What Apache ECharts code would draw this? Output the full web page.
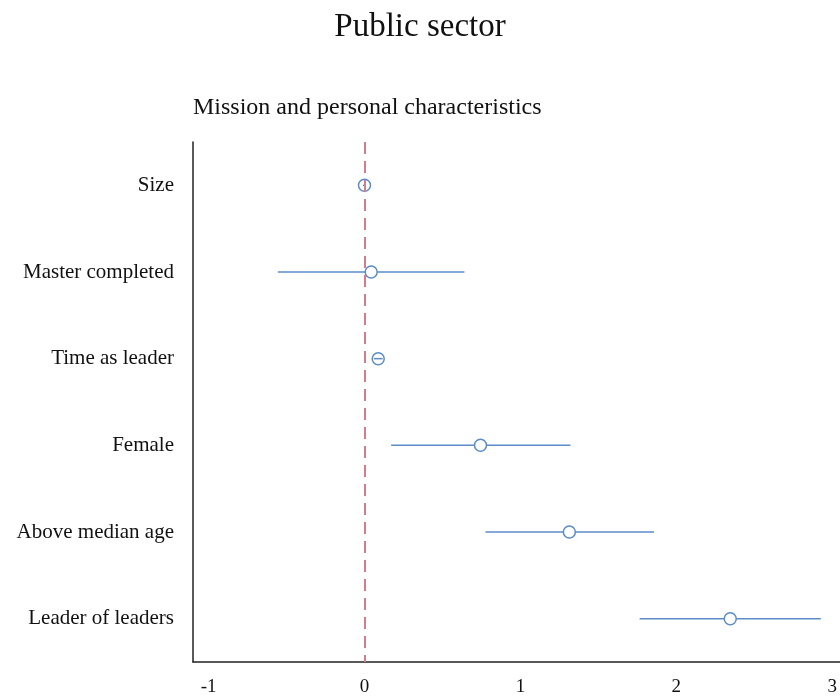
<!DOCTYPE html>
<html>
<head>
<meta charset="utf-8">
<script src="https://cdn.jsdelivr.net/npm/echarts@6/dist/echarts.min.js"></script>
<style>
html,body{margin:0;padding:0;background:#fff;}
#chart{width:840px;height:700px;}
</style>
</head>
<body>
<div id="chart"></div>
<script>
var categories = ["Size", "Master completed", "Time as leader", "Female", "Above median age", "Leader of leaders"];
var estimates = [0.00, 0.043, 0.088, 0.744, 1.314, 2.346];
var ciLow = [-0.01, -0.556, 0.06, 0.171, 0.776, 1.765];
var ciHigh = [0.01, 0.641, 0.116, 1.321, 1.857, 2.927];
var xTicks = [-1, 0, 1, 2, 3];
var titleText = "Public sector";
var subtitleText = "Mission and personal characteristics";

var serif = "'Liberation Serif', 'DejaVu Serif', serif";
var blue = "#5b8cc8";
var red = "#d67b8b";
var markerSize = 12;

var chart = echarts.init(document.getElementById('chart'), null, {renderer: 'canvas'});

var ciData = categories.map(function (c, i) { return [ciLow[i], ciHigh[i], c]; });
var ptData = categories.map(function (c, i) { return [estimates[i], c]; });

function ciRenderer(onlyShort) {
  return function (params, api) {
    var cat = api.value(2);
    var p1 = api.coord([api.value(0), cat]);
    var p2 = api.coord([api.value(1), cat]);
    var len = Math.abs(p2[0] - p1[0]);
    if (onlyShort && len > markerSize + 2) return null;
    return {
      type: 'line',
      shape: {x1: p1[0], y1: p1[1], x2: p2[0], y2: p2[1]},
      style: {stroke: blue, lineWidth: 1.5}
    };
  };
}

chart.setOption({
  backgroundColor: '#ffffff',
  animation: false,
  title: [
    {text: titleText, left: 'center', top: 11, padding: 0,
     textStyle: {fontFamily: serif, fontSize: 33, fontWeight: 'normal', color: '#111'}},
    {text: subtitleText, left: 193, top: 96, padding: 0,
     textStyle: {fontFamily: serif, fontSize: 24, fontWeight: 'normal', color: '#111'}}
  ],
  grid: {left: 193, right: 0, top: 142, bottom: 38, containLabel: false},
  xAxis: {
    type: 'value', min: -1.1, max: 3.05,
    splitLine: {show: false},
    axisTick: {show: false},
    axisLine: {show: true, onZero: false, lineStyle: {color: '#222', width: 1.5}},
    axisLabel: {customValues: xTicks, margin: 16, fontFamily: serif, fontSize: 19, color: '#111'}
  },
  yAxis: {
    type: 'category', data: categories, inverse: true,
    axisTick: {show: false},
    splitLine: {show: false},
    axisLine: {show: true, onZero: false, lineStyle: {color: '#222', width: 1.5}},
    axisLabel: {margin: 19, fontFamily: serif, fontSize: 21, color: '#111'}
  },
  series: [
    {
      type: 'custom',
      data: ciData,
      encode: {x: [0, 1], y: 2},
      z: 2,
      renderItem: ciRenderer(false)
    },
    {
      type: 'scatter',
      data: ptData,
      symbol: 'circle',
      symbolSize: markerSize,
      z: 3,
      itemStyle: {color: '#fff', borderColor: blue, borderWidth: 1.5, opacity: 1}
    },
    {
      type: 'custom',
      data: ciData,
      encode: {x: [0, 1], y: 2},
      z: 4,
      renderItem: ciRenderer(true)
    },
    {
      type: 'line',
      data: [],
      z: 5,
      markLine: {
        silent: true,
        symbol: ['none', 'none'],
        label: {show: false},
        lineStyle: {color: red, type: [12, 7], width: 2},
        data: [{xAxis: 0}]
      }
    }
  ]
});
</script>
</body>
</html>
